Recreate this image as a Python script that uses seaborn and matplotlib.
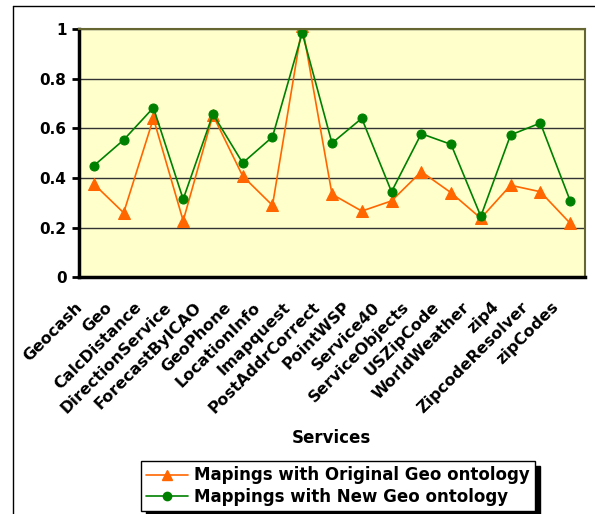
import seaborn as sns
import matplotlib.pyplot as plt
import pandas as pnd
from matplotlib.lines import Line2D
from matplotlib.transforms import ScaledTranslation, blended_transform_factory

servicios = ["Geocash", "Geo", "CalcDistance", "DirectionService", "ForecastByICAO",
             "GeoPhone", "LocationInfo", "Imapquest", "PostAddrCorrect", "PointWSP",
             "Service40", "ServiceObjects", "USZipCode", "WorldWeather", "zip4",
             "ZipcodeResolver", "zipCodes"]
original = [0.376, 0.260, 0.641, 0.228, 0.654, 0.408, 0.290, 1.015, 0.335, 0.267,
            0.308, 0.426, 0.341, 0.238, 0.371, 0.345, 0.218]
nueva = [0.450, 0.554, 0.684, 0.315, 0.658, 0.461, 0.566, 0.985, 0.541, 0.641,
         0.345, 0.579, 0.536, 0.246, 0.574, 0.622, 0.309]
etiquetas = ["Mapings with Original Geo ontology", "Mappings with New Geo ontology"]

sns.set_theme(style="white")
plt.rcParams['font.family'] = ['DejaVu Sans']
plt.rcParams['font.weight'] = 'bold'
plt.rcParams['text.color'] = 'black'
plt.rcParams['xtick.color'] = 'black'
plt.rcParams['ytick.color'] = 'black'
plt.rcParams['xtick.labelcolor'] = 'black'
plt.rcParams['ytick.labelcolor'] = 'black'

df = pnd.DataFrame({"pos": range(len(servicios)), "orig": original, "new": nueva})

fig = plt.figure(figsize=(5.95, 5.14), dpi=100)
ax = fig.add_axes([79/595, 1-277.3/514, 506/595, 248/514])
ax.set_facecolor('#FFFFCC')

sns.lineplot(data=df, x="pos", y="orig", ax=ax, color='#FF6600', marker='^',
             markersize=8, markeredgecolor='#FF6600', linewidth=1.2)
sns.lineplot(data=df, x="pos", y="new", ax=ax, color='#008000', marker='o',
             markersize=6.5, markeredgecolor='#008000', linewidth=1.2)

ax.set_yticks([0, 0.2, 0.4, 0.6, 0.8, 1.0])
ax.set_yticklabels(["0", "0.2", "0.4", "0.6", "0.8", "1"], fontsize=11, fontweight='bold')
ax.yaxis.grid(True, color='#333333', linewidth=1)
ax.set_axisbelow(True)

# ticks entre categorias
ax.set_xticks([i - 0.5 for i in range(len(servicios)+1)])
ax.set_xticklabels([])
ax.tick_params(axis='x', which='major', direction='out', length=5, width=2, color='black')
ax.tick_params(axis='y', direction='out', length=5, width=2, color='black', pad=4, left=True)
ax.set_xlim(-0.5, len(servicios)-0.5)
ax.set_ylim(0, 1)
ax.set_xlabel("")
ax.set_ylabel("")

# etiquetas giradas, un poco a la izquierda del centro (como Excel)
trans = blended_transform_factory(ax.transData, ax.transAxes) + \
    ScaledTranslation(-19.5/100, -22/100, fig.dpi_scale_trans)
for i, nombre in enumerate(servicios):
    ax.text(i, 0, nombre, transform=trans, rotation=45, ha='right', va='top',
            rotation_mode='anchor', fontsize=11.5, fontweight='bold', clip_on=False)

for s in ['top', 'right']:
    ax.spines[s].set_color('#666633')
    ax.spines[s].set_linewidth(1.5)
for s in ['left', 'bottom']:
    ax.spines[s].set_color('black')
    ax.spines[s].set_linewidth(2.5)

fig.text(331/595, 1-438/514, "Services", ha='center', va='center', fontsize=12, fontweight='bold')

handles = [Line2D([], [], color='#FF6600', marker='^', markersize=7, linewidth=1.2),
           Line2D([], [], color='#008000', marker='o', markersize=6, linewidth=1.2)]
leg = fig.legend(handles, etiquetas, loc='center', bbox_to_anchor=(338/595, 1-486/514),
                 frameon=True, fancybox=False,
                 shadow={'color': 'black', 'alpha': 1, 'ox': 3.5, 'oy': -3.5},
                 prop={'size': 12, 'weight': 'bold'}, handlelength=2.5, borderpad=0.3,
                 labelspacing=0.2, handletextpad=0.4, borderaxespad=0)
leg.get_frame().set_edgecolor('black')
leg.get_frame().set_linewidth(1)

# marco exterior
fig.add_artist(Line2D([13/595, 13/595], [0, 1-6/514], color='black', linewidth=1, transform=fig.transFigure))
fig.add_artist(Line2D([13/595, 1], [1-6/514, 1-6/514], color='black', linewidth=1, transform=fig.transFigure))

plt.savefig('out.png', dpi=100)
